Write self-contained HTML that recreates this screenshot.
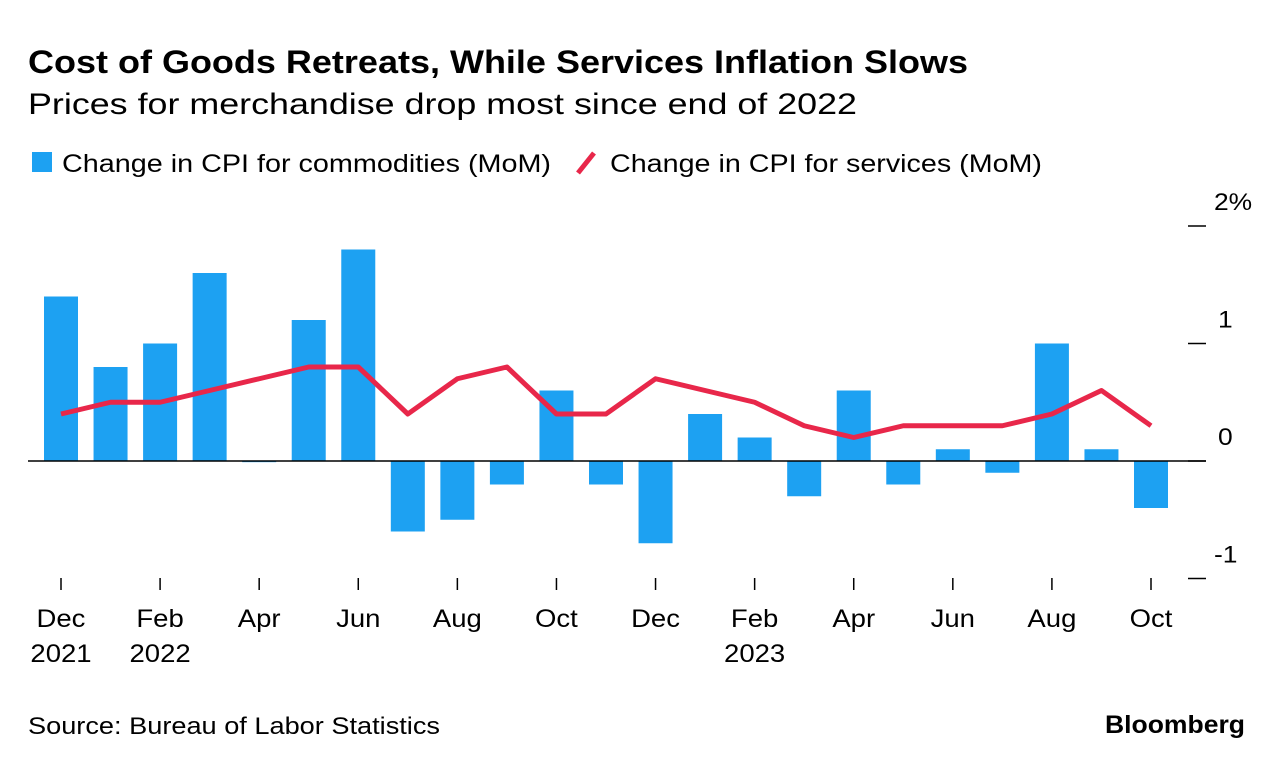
<!DOCTYPE html>
<html><head><meta charset="utf-8">
<style>
body{margin:0;background:#fff;width:1285px;height:768px;overflow:hidden;font-family:"Liberation Sans",sans-serif;color:#000}
</style></head>
<body>
<svg id="c" width="1285" height="768" style="position:absolute;left:0;top:0">
<text x="28" y="73" font-size="32" font-weight="bold" textLength="940" lengthAdjust="spacingAndGlyphs">Cost of Goods Retreats, While Services Inflation Slows</text>
<text x="28" y="114" font-size="30" textLength="829" lengthAdjust="spacingAndGlyphs">Prices for merchandise drop most since end of 2022</text>
<g>
<rect x="32" y="152" width="20" height="20" fill="#1da1f2"/>
<text x="62" y="172" font-size="25" textLength="489" lengthAdjust="spacingAndGlyphs">Change in CPI for commodities (MoM)</text>
<line x1="578" y1="173" x2="594" y2="153" stroke="#e8274a" stroke-width="5"/>
<text x="610" y="172" font-size="25" textLength="432" lengthAdjust="spacingAndGlyphs">Change in CPI for services (MoM)</text>
</g>
<text x="1105" y="733" font-size="25" font-weight="bold" textLength="140" lengthAdjust="spacingAndGlyphs">Bloomberg</text>
<text x="28" y="734" font-size="24" textLength="412" lengthAdjust="spacingAndGlyphs">Source: Bureau of Labor Statistics</text>
</svg>
<script>
const months=["Dec","Jan","Feb","Mar","Apr","May","Jun","Jul","Aug","Sep","Oct","Nov","Dec","Jan","Feb","Mar","Apr","May","Jun","Jul","Aug","Sep","Oct"];
const commodities=[1.4,0.8,1.0,1.6,-0.01,1.2,1.8,-0.6,-0.5,-0.2,0.6,-0.2,-0.7,0.4,0.2,-0.3,0.6,-0.2,0.1,-0.1,1.0,0.1,-0.4];
const services=[0.4,0.5,0.5,0.6,0.7,0.8,0.8,0.4,0.7,0.8,0.4,0.4,0.7,0.6,0.5,0.3,0.2,0.3,0.3,0.3,0.4,0.6,0.3];
const yTicks=[-1,0,1,2];
const yTickLabels=["-1","0","1","2%"];
const xLabels={0:["Dec","2021"],2:["Feb","2022"],4:["Apr"],6:["Jun"],8:["Aug"],10:["Oct"],12:["Dec"],14:["Feb","2023"],16:["Apr"],18:["Jun"],20:["Aug"],22:["Oct"]};
const NS="http://www.w3.org/2000/svg";
const svg=document.getElementById('c');
const x=i=>61+i*(1151-61)/22;
const y=v=>461-v*117.5;
function mk(t,a){const e=document.createElementNS(NS,t);for(const k in a)e.setAttribute(k,a[k]);svg.appendChild(e);return e;}
function stretch(e,f){const w=e.getComputedTextLength();e.setAttribute('textLength',w*f);e.setAttribute('lengthAdjust','spacingAndGlyphs');}
yTicks.forEach((t,i)=>{
  const l=mk('line',{x1:1188,x2:1206,y1:y(t),y2:y(t),stroke:'#000','stroke-width':1.5});
  
  
  const tx=mk('text',{x:t===0||t===1?1218:1214,y:y(t)-16,'font-size':24});
  tx.textContent=yTickLabels[i];
  
  
  stretch(tx,1.1);
});
commodities.forEach((v,i)=>{
  const top=Math.min(y(v),y(0)),h=Math.max(Math.abs(y(v)-y(0)),1);
  const r=mk('rect',{x:x(i)-17,y:top,width:34,height:h,fill:'#1da1f2'});
  
  
});
const zl=mk('line',{x1:28,x2:1206,y1:y(0),y2:y(0),stroke:'#000','stroke-width':1.5});


const p=mk('polyline',{points:services.map((v,i)=>x(i)+','+y(v)).join(' '),fill:'none',stroke:'#e8274a','stroke-width':5,'stroke-linejoin':'round'});


months.forEach((m,i)=>{
  if(i%2)return;
  const t=mk('line',{x1:x(i),x2:x(i),y1:578,y2:590,stroke:'#000','stroke-width':1.5});
  
  
  xLabels[i].forEach((s,j)=>{
    const tx=mk('text',{x:x(i),y:627+j*35,'font-size':25,'text-anchor':'middle'});
    tx.textContent=s;
    
    
    stretch(tx,1.1);
  });
});
</script>
</body></html>
